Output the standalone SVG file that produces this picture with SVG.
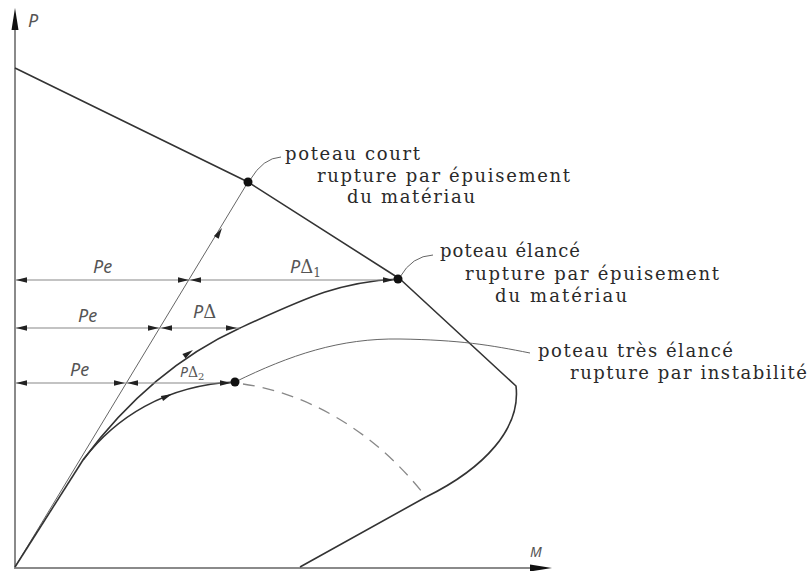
<svg xmlns="http://www.w3.org/2000/svg" xmlns:xlink="http://www.w3.org/1999/xlink" width="811" height="571" viewBox="0 0 811 571">
<style>
.ax{stroke:#8a8a8a;stroke-width:2;fill:none}
.cv{stroke:#333;stroke-width:1.6;fill:none;stroke-linejoin:round}
.th{stroke:#666;stroke-width:1;fill:none}
.dim{stroke:#888;stroke-width:1.2;fill:none}
.dash{stroke:#888;stroke-width:1.3;fill:none;stroke-dasharray:12 8}
.dot{fill:#111}
.lbl{font-family:"Noto Sans","DejaVu Sans",sans-serif;font-style:italic;fill:#555}
.dl{font-family:"DejaVu Serif",serif;font-style:normal}
.txt{font-family:"DejaVu Serif","Liberation Serif",serif;font-size:18px;fill:#2a2a2a}
</style>
<defs>
<path id="ah" d="M0,0 L-11,-2.8 L-11,2.8 Z" fill="#222"/>
<path id="axh" d="M0,0 L-22,-3.5 L-22,3.5 Z" fill="#111"/>
</defs>

<g id="axes">
<line class="ax" x1="15" y1="568" x2="15" y2="26"/>
<line class="ax" x1="14" y1="568" x2="532" y2="568"/>
<use xlink:href="#axh" transform="translate(15,8) rotate(-90)"/>
<use xlink:href="#axh" transform="translate(552,568)"/>
<text class="lbl" x="28" y="27" font-size="18">P</text>
<text class="lbl" x="530" y="557" font-size="14">M</text>
</g>

<g id="connectors">
<path class="cv" d="M15,68 L248,182 L400,279 L516,386 C521,428 485,468 426,497 L300,567"/>
<path class="dash" d="M243,384 C300,392 370,425 426,497"/>
<path class="th" d="M235,382 C290,355 340,338 400,339 S490,345 530,353"/>
<path class="th" d="M15,567 L248,182"/>
<path class="cv" d="M15,567 L83,460"/>
<path class="cv" d="M83,460 C120,410 170,360 240,328 S340,282 398,279"/>
<path class="cv" d="M83,460 C115,418 165,385 235,382"/>
<use xlink:href="#ah" transform="translate(222,228) rotate(-58.8)"/>
<use xlink:href="#ah" transform="translate(193,350) rotate(-35)"/>
<use xlink:href="#ah" transform="translate(172,394) rotate(-24)"/>
<path class="th" d="M250,180 Q263,158 281,157"/>
<path class="th" d="M400,277 Q412,256 433,255"/>
</g>

<g id="dimensions">
<line class="dim" x1="15" y1="280" x2="398" y2="280"/>
<use xlink:href="#ah" transform="translate(16,280) rotate(180)"/>
<use xlink:href="#ah" transform="translate(189,280)"/>
<use xlink:href="#ah" transform="translate(190,280) rotate(180)"/>
<use xlink:href="#ah" transform="translate(394,280)"/>
<line class="dim" x1="15" y1="328" x2="240" y2="328"/>
<use xlink:href="#ah" transform="translate(16,328) rotate(180)"/>
<use xlink:href="#ah" transform="translate(159,328)"/>
<use xlink:href="#ah" transform="translate(161,328) rotate(180)"/>
<use xlink:href="#ah" transform="translate(237,328)"/>
<line class="dim" x1="15" y1="383" x2="235" y2="383"/>
<use xlink:href="#ah" transform="translate(16,383) rotate(180)"/>
<use xlink:href="#ah" transform="translate(125,383)"/>
<use xlink:href="#ah" transform="translate(127,383) rotate(180)"/>
<use xlink:href="#ah" transform="translate(231,383)"/>
<text class="lbl" x="93" y="273" font-size="18">Pe</text>
<text class="lbl" x="78" y="322" font-size="18">Pe</text>
<text class="lbl" x="70" y="376" font-size="18">Pe</text>
<text class="lbl" x="193" y="318" font-size="18">P<tspan class="dl">Δ</tspan></text>
<text class="lbl" x="290" y="273" font-size="18">P<tspan class="dl">Δ</tspan><tspan class="dl" font-size="12" dy="4">1</tspan></text>
<text class="lbl" x="180" y="377" font-size="14">P<tspan class="dl">Δ</tspan><tspan class="dl" font-size="10" dy="3">2</tspan></text>
</g>

<g id="node-court">
<circle class="dot" cx="248" cy="182" r="4.5"/>
<text class="txt" x="285" y="160" textLength="135" lengthAdjust="spacing">poteau court</text>
<text class="txt" x="317" y="181.5" textLength="253" lengthAdjust="spacing">rupture par épuisement</text>
<text class="txt" x="347" y="203" textLength="128" lengthAdjust="spacing">du matériau</text>
</g>

<g id="node-elance">
<circle class="dot" cx="398" cy="279" r="4.5"/>
<text class="txt" x="440" y="257" textLength="140" lengthAdjust="spacing">poteau élancé</text>
<text class="txt" x="465" y="279.5" textLength="254" lengthAdjust="spacing">rupture par épuisement</text>
<text class="txt" x="495" y="302" textLength="132" lengthAdjust="spacing">du matériau</text>
</g>

<g id="node-tres-elance">
<circle class="dot" cx="235" cy="382" r="4.5"/>
<text class="txt" x="538" y="357" textLength="195" lengthAdjust="spacing">poteau très élancé</text>
<text class="txt" x="570" y="379" textLength="237" lengthAdjust="spacing">rupture par instabilité</text>
</g>
</svg>
